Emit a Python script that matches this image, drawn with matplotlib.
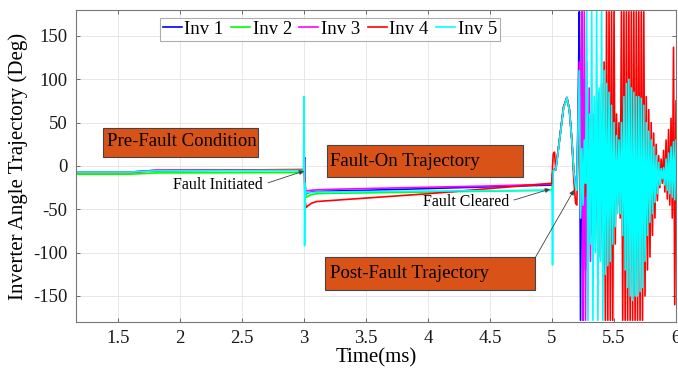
import matplotlib
matplotlib.use("Agg")
import matplotlib.pyplot as plt
from matplotlib.patches import Rectangle
import numpy as np

plt.rcParams['font.family'] = ['Liberation Serif', 'DejaVu Serif']
plt.rcParams['axes.unicode_minus'] = False

# ---------------- data ----------------
t_main = [1.16, 1.60, 1.80, 2.995, 3.000, 3.004, 3.008, 3.015, 3.03, 3.06, 3.10, 3.20,
          3.50, 4.00, 4.50, 4.995, 5.000, 5.004, 5.010, 5.020, 5.030, 5.040, 5.067,
          5.093, 5.120, 5.140, 5.160, 5.175, 5.190]

t_chaos = [5.20, 5.21, 5.22, 5.23, 5.24, 5.25, 5.26, 5.27, 5.28, 5.29,
           5.30, 5.31, 5.32, 5.33, 5.34, 5.35, 5.36, 5.37, 5.38, 5.39,
           5.40, 5.41, 5.42, 5.43, 5.44, 5.45, 5.46, 5.47, 5.48, 5.49,
           5.50, 5.51, 5.52, 5.53, 5.54, 5.55, 5.56, 5.57, 5.58, 5.59,
           5.60, 5.61, 5.62, 5.63, 5.64, 5.65, 5.66, 5.67, 5.68, 5.69,
           5.70, 5.71, 5.72, 5.73, 5.74, 5.75, 5.76, 5.77, 5.78, 5.79,
           5.80, 5.81, 5.82, 5.83, 5.84, 5.85, 5.86, 5.87, 5.88, 5.89,
           5.90, 5.91, 5.92, 5.93, 5.94, 5.95, 5.96, 5.97, 5.98, 5.99, 6.00]

inv1_main = [-7, -7, -5, -5, -5, 10, -25, -32, -31, -30, -29.5, -29, -28, -26, -24, -22,
             -22, -10, -5, -4, -3, 7, 38, 68, 79, 65, 30, -5, -24]
inv2_main = [-9.5, -9.5, -8, -7.5, -7.5, 5, -28, -36, -35, -33, -32, -31.5, -31, -30, -29,
             -28, -28, -12, -6, -5, -4, 6, 37, 67, 78, 64, 29, -6, -26]
inv3_main = [-7, -7, -5, -4.5, -4.5, 8, -22, -29, -28.5, -28, -27.5, -27, -26, -24.5, -23,
             -21, -21, -10, -5, -4, -3, 7, 38, 68, 79, 65, 30, -5, -24]
inv4_main = [-7.5, -7.5, -5.5, -4, -4, -20, -40, -48, -46, -43, -41, -40, -37, -32, -26,
             -20, -20, 0, 14, 16, -5, 8, 38, 68, 79, 65, 30, -15, -43]
inv5_main = [-7, -7, -5.5, -5, 80, -92, -20, -31, -31, -30.5, -30, -30, -29.5, -29, -28.5,
             -28, -28, -114, -5, -5, -4, 6, 37, 67, 79, 64, 29, -6, -25]

inv1_chaos = [-25, 60, 178, -178, 178, -178, 100, -120, 80, -100,
              60, -80, 45, -65, 35, -55, 30, -50, 25, -45,
              20, -40, 18, -38, 15, -35, 12, -32, 10, -30,
              8, -28, 6, -26, 8, -30, 12, -34, 15, -38,
              18, -40, 18, -40, 16, -38, 14, -36, 12, -34,
              10, -32, 8, -30, 6, -28, 4, -26, 2, -24,
              0, -22, -2, -20, -4, -18, -6, -16, -8, -12,
              -8, -16, -5, -19, -2, -22, 1, -25, 4, -27, 5]
inv2_chaos = [-28, 40, 110, -50, 30, -60, 40, -45, 35, -50,
              30, -48, 28, -46, 25, -44, 22, -42, 20, -40,
              18, -38, 16, -36, 14, -34, 12, -32, 10, -30,
              8, -29, 6, -28, 8, -31, 11, -34, 14, -38,
              16, -40, 16, -40, 14, -38, 12, -36, 10, -34,
              8, -32, 6, -30, 4, -29, 2, -27, 0, -25,
              -2, -24, -4, -22, -6, -21, -8, -20, -10, -17,
              -11, -20, -8, -23, -5, -25, -2, -28, 1, -30, 2]
inv3_chaos = [-25, 50, 120, -60, 178, -178, 178, -178, 120, -140,
              90, -110, 60, -80, 40, -60, 32, -52, 26, -46,
              22, -42, 19, -38, 16, -35, 13, -33, 11, -31,
              9, -29, 7, -27, 9, -31, 13, -35, 16, -39,
              19, -41, 19, -41, 17, -39, 15, -37, 13, -35,
              11, -33, 9, -31, 7, -29, 5, -27, 3, -25,
              1, -23, -1, -21, -3, -19, -5, -17, -7, -13,
              -9, -17, -6, -20, -3, -23, 0, -26, 3, -28, 4]
inv4_chaos = [-45, 20, 60, -30, 10, -30, 20, -35, 40, -50,
              55, -60, 65, -75, 60, -85, 75, -95, 85, -105,
              95, -115, 120, -178, 178, -178, 178, -178, 178, -178,
              178, -90, 60, -45, 50, -60, 178, -178, 178, -178,
              178, -178, 178, -178, 178, -178, 178, -178, 178, -178,
              178, -178, 178, -178, 178, -150, 80, -120, 65, -105,
              50, -80, 38, -60, 25, -40, 12, -25, 8, -20,
              18, -30, 30, -38, 42, -45, 55, -60, 137, -160, 75]
inv5_chaos = [-28, 40, 110, -60, 20, -45, 30, -20, 178, -178,
              60, -90, 178, -178, 80, -100, 178, -178, 90, -110,
              178, -178, 110, -125, 95, -115, 85, -110, 70, -90,
              50, -70, 35, -55, 30, -55, 50, -80, 80, -120,
              95, -140, 100, -150, 90, -155, 85, -150, 80, -150,
              80, -145, 78, -140, 70, -110, 50, -80, 40, -65,
              30, -55, 22, -42, 12, -32, 4, -22, -3, -15,
              -2, -22, 8, -28, 15, -32, 22, -36, 28, -39, 30]

labels = ["Inv 1", "Inv 2", "Inv 3", "Inv 4", "Inv 5"]
colors = ["#0000FF", "#00FF00", "#FF00FF", "#FF0000", "#00FFFF"]
series_main = [inv1_main, inv2_main, inv3_main, inv4_main, inv5_main]
series_chaos = [inv1_chaos, inv2_chaos, inv3_chaos, inv4_chaos, inv5_chaos]

# ---------------- figure ----------------
fig = plt.figure(figsize=(6.78, 3.74), dpi=100)
ax = fig.add_axes([76/678, 52/374, 600/678, 312/374])

for lab, col, vm, vc in zip(labels, colors, series_main, series_chaos):
    ax.plot(t_main + t_chaos, vm + vc, color=col, lw=1.2, label=lab)

ax.set_xlim(1.16, 6.0)
ax.set_ylim(-180, 180)
ax.set_xticks([1.5, 2, 2.5, 3, 3.5, 4, 4.5, 5, 5.5, 6])
ax.set_xticklabels(["1.5", "2", "2.5", "3", "3.5", "4", "4.5", "5", "5.5", "6"])
ax.set_yticks([-150, -100, -50, 0, 50, 100, 150])
ax.grid(True, color="#E3E3E3", lw=0.6)
ax.set_axisbelow(True)
ax.tick_params(direction="in", length=3, width=0.6, color="#555555",
               labelsize=13.5, labelcolor="#1a1a1a", top=True, right=True, pad=6)
for s in ax.spines.values():
    s.set_color("#777777")
    s.set_linewidth(0.8)

ax.set_xlabel("Time(ms)", fontsize=15, labelpad=1)
ax.set_ylabel("Inverter Angle Trajectory (Deg)", fontsize=15, labelpad=4)

leg = ax.legend(loc="upper left", bbox_to_anchor=(0.14, 0.975), ncol=5,
                fontsize=13.5, frameon=True, fancybox=False, edgecolor="#999999",
                handlelength=1.0, handletextpad=0.15, columnspacing=0.4,
                borderpad=0.15, borderaxespad=0)
leg.get_frame().set_linewidth(0.8)

# ---------------- annotation boxes ----------------
box_fc = "#D95319"
boxes = [((0.045, 0.529), 0.258, 0.093, 0.052, 0.577, "Pre-Fault Condition"),
         ((0.418, 0.465), 0.327, 0.102, 0.423, 0.516, "Fault-On Trajectory"),
         ((0.415, 0.103), 0.350, 0.105, 0.423, 0.155, "Post-Fault Trajectory")]
for (x0, y0), w, h, tx, ty, txt in boxes:
    ax.add_patch(Rectangle((x0, y0), w, h, transform=ax.transAxes, fc=box_fc,
                           ec="#444444", lw=0.8, zorder=5))
    ax.text(tx, ty, txt, transform=ax.transAxes, ha="left", va="center",
            fontsize=13.5, color="black", zorder=6)

arrow_kw = dict(arrowstyle="-|>", color="#404040", lw=0.6, mutation_scale=7,
                shrinkA=0, shrinkB=0)
ax.text(0.237, 0.439, "Fault Initiated", transform=ax.transAxes, ha="center",
        va="center", fontsize=11.5, zorder=6)
ax.annotate("", xy=(0.38, 0.484), xytext=(0.32, 0.446), xycoords="axes fraction",
            textcoords="axes fraction", arrowprops=arrow_kw, zorder=6)
ax.text(0.65, 0.385, "Fault Cleared", transform=ax.transAxes, ha="center",
        va="center", fontsize=11.5, zorder=6)
ax.annotate("", xy=(0.79, 0.426), xytext=(0.73, 0.391), xycoords="axes fraction",
            textcoords="axes fraction", arrowprops=arrow_kw, zorder=6)
ax.annotate("", xy=(0.83, 0.423), xytext=(0.765, 0.205), xycoords="axes fraction",
            textcoords="axes fraction", arrowprops=arrow_kw, zorder=6)

fig.savefig("out.png", dpi=100)
